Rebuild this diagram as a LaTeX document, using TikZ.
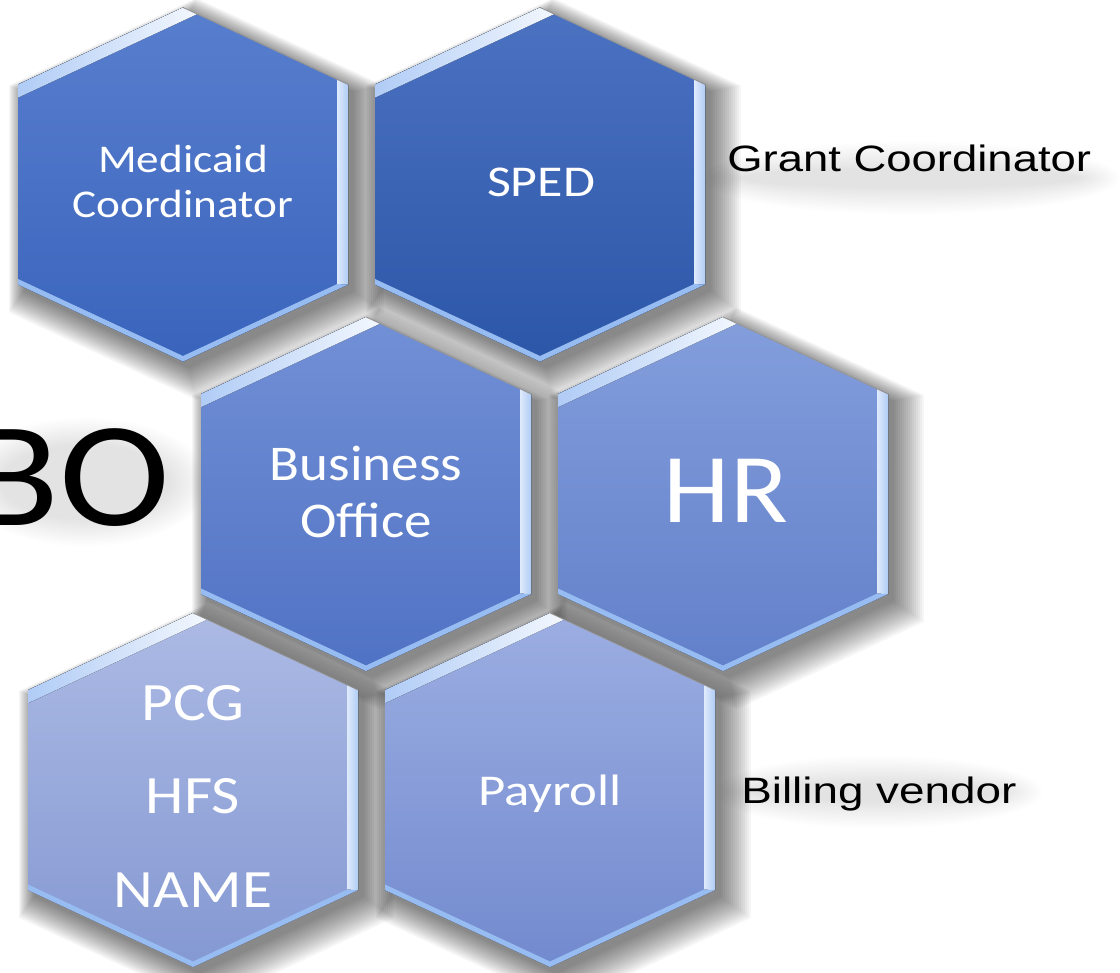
\documentclass[tikz,border=0pt]{standalone}
\usepackage{fontspec}
\usepackage{graphicx}
\newfontfamily\calib{Carlito}
\newfontfamily\arialf{Liberation Sans}
\definecolor{hlblue}{RGB}{176,204,246}
\definecolor{bevblue}{RGB}{150,188,242}
\definecolor{hAt}{RGB}{88,126,206}\definecolor{hAb}{RGB}{58,100,188}
\definecolor{hBt}{RGB}{76,114,194}\definecolor{hBb}{RGB}{44,86,168}
\definecolor{hCt}{RGB}{114,144,214}\definecolor{hCb}{RGB}{80,114,196}
\definecolor{hDt}{RGB}{132,158,220}\definecolor{hDb}{RGB}{98,128,202}
\definecolor{hEt}{RGB}{172,186,228}\definecolor{hEb}{RGB}{132,152,210}
\definecolor{hFt}{RGB}{156,174,226}\definecolor{hFb}{RGB}{114,138,206}
\tikzset{
  hexlabel/.style={text=white, inner sep=0pt, anchor=base},
  sidelabel/.style={text=black, inner sep=0pt, anchor=base west},
}
\newcommand\hexcell[5]{%
  \begin{scope}[shift={(#2,#3)}]
    \foreach \k in {0,...,15}{%
      \begin{scope}[shift={(6+0.5*\k,7+0.5*\k)}, scale={1+0.009*\k}]
        \fill[black, opacity=0.036] (0,-177) -- (165,-100) -- (165,100) -- (0,177) -- (-165,100) -- (-165,-100) -- cycle;
      \end{scope}}
    \fill[top color=#4, bottom color=#5] (0,-177) -- (165,-100) -- (165,100) -- (0,177) -- (-165,100) -- (-165,-100) -- cycle;
    \fill[left color=hlblue, middle color=white, right color=white!85!hlblue] (-165,-100) -- (0,-177) -- (14.2,-170.4) -- (-165,-86.8) -- cycle;
    \fill[left color=white!60!hlblue, right color=hlblue] (154,-105.1) -- (165,-100) -- (165,100) -- (154,99.6) -- cycle;
    \fill[bevblue] (165,100) -- (0,177) -- (0,171.5) -- (154,99.6) -- cycle;
    \fill[bevblue] (0,177) -- (-165,100) -- (-165,94.5) -- (0,171.5) -- cycle;
    \draw[black!40, line width=0.6] (0,-177) -- (165,-100);
    \coordinate (#1) at (0,0);
  \end{scope}}
\newcommand\softblob[4]{% cx cy rx ry
  \foreach \k in {0,...,13}{%
    \fill[black, opacity=0.008] (#1,#2) ellipse ({#3+3*\k} and {#4+2*\k});}}
\begin{document}
\begin{tikzpicture}[x=0.75pt, y=-0.75pt]
  \useasboundingbox (0,0) rectangle (1120,973);
  \fill[white] (0,0) rectangle (1120,973);

  % soft shadows behind free texts
  \softblob{85}{482}{85}{38}
  \softblob{910}{178}{170}{10}
  \softblob{878}{792}{125}{10}

  \node[anchor=base east, inner sep=0pt, text=black, font=\calib\fontsize{112}{112}\selectfont] (bo) at (170,525) {\scalebox{1.12}[1]{BO}};

  \hexcell{hA}{183}{184.5}{hAt}{hAb}
  \hexcell{hB}{540}{184.5}{hBt}{hBb}
  \hexcell{hC}{366}{494}{hCt}{hCb}
  \hexcell{hD}{723}{494}{hDt}{hDb}
  \hexcell{hE}{193}{790}{hEt}{hEb}
  \hexcell{hF}{550}{790}{hFt}{hFb}

  \node[sidelabel, font=\arialf\fontsize{27.5}{28}\selectfont] (grant) at (727,172) {\scalebox{1.24}[1]{Grant Coordinator}};
  \node[sidelabel, font=\arialf\fontsize{27.5}{28}\selectfont] (billing) at (741,803) {\scalebox{1.25}[1]{Billing vendor}};

  \node[hexlabel, font=\calib\fontsize{29.5}{30}\selectfont] (medl1) at (183,173) {\scalebox{1.15}[1]{Medicaid}};
  \node[hexlabel, font=\calib\fontsize{29.5}{30}\selectfont] (medl2) at (183,218) {\scalebox{1.15}[1]{Coordinator}};
  \node[hexlabel, font=\calib\fontsize{33}{33}\selectfont] (sped) at (541,197) {\scalebox{1.18}[1]{SPED}};
  \node[hexlabel, font=\calib\fontsize{37.5}{38}\selectfont] (bus1) at (366,480) {\scalebox{1.1}[1]{Business}};
  \node[hexlabel, font=\calib\fontsize{37.5}{38}\selectfont] (bus2) at (366,537) {\scalebox{1.1}[1]{Office}};
  \node[hexlabel, font=\calib\fontsize{74}{74}\selectfont] (hr) at (726,522) {\scalebox{1.08}[1]{HR}};
  \node[hexlabel, font=\calib\fontsize{40.5}{41}\selectfont] (pcg) at (193,720) {\scalebox{1.14}[1]{PCG}};
  \node[hexlabel, font=\calib\fontsize{40.5}{41}\selectfont] (hfs) at (193,813) {\scalebox{1.14}[1]{HFS}};
  \node[hexlabel, font=\calib\fontsize{40.5}{41}\selectfont] (nme) at (193,907) {\scalebox{1.14}[1]{NAME}};
  \node[hexlabel, font=\calib\fontsize{33}{33}\selectfont] (payroll) at (550,805) {\scalebox{1.2}[1]{Payroll}};
\end{tikzpicture}
\end{document}
